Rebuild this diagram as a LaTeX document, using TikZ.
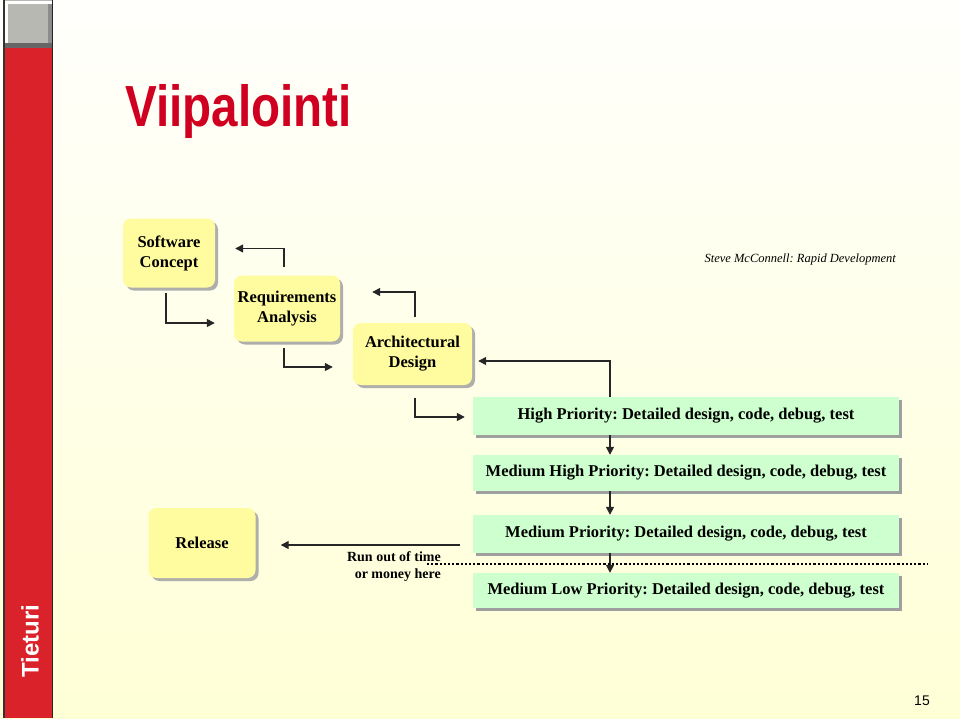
\documentclass[tikz,border=0pt]{standalone}
\usepackage{fontspec}
\setmainfont{Liberation Serif}
\newfontfamily\arialf{Liberation Sans}
\usetikzlibrary{arrows.meta,shadows}
\definecolor{bgtop}{RGB}{255,255,252}
\definecolor{bgbot}{RGB}{255,255,214}
\definecolor{redbar}{RGB}{218,34,42}
\definecolor{titlered}{RGB}{208,0,32}
\definecolor{yellowfill}{RGB}{255,252,160}
\definecolor{greenfill}{RGB}{206,255,206}
\definecolor{squaregray}{RGB}{184,184,178}
\frenchspacing
\begin{document}
\begin{tikzpicture}[x=1pt,y=-1pt,
  ybox/.style={rounded corners=8pt, fill=yellowfill, align=center, inner sep=0pt,
    font=\bfseries\fontsize{16.5}{20}\selectfont,
    drop shadow={shadow xshift=3pt, shadow yshift=-3pt, fill=gray!70, opacity=0.9}},
  gbox/.style={fill=greenfill, minimum width=426pt, inner sep=0pt,
    font=\bfseries\fontsize{16.5}{20}\selectfont,
    drop shadow={shadow xshift=2.5pt, shadow yshift=-2.5pt, fill=gray!75, opacity=1}},
  arr/.style={line width=1.4pt, draw=black!85, -{Triangle[length=8pt,width=8pt]}}
]
\useasboundingbox (0,0) rectangle (960,718);
\shade[top color=bgtop, bottom color=bgbot] (0,0) rectangle (960,718);

% left bar
\fill[redbar] (3,48) rectangle (52,718);
\fill[squaregray] (3,0) rectangle (52,47);
\fill[white] (4,1) rectangle (52,4);
\fill[white] (4,1) rectangle (8,43);
\fill[black!60] (4,43) rectangle (52,47.5);
\fill[black!45] (48,4) rectangle (52,43);
\draw[line width=1.5pt, black!80] (3.75,0) -- (3.75,718);
\draw[line width=1.5pt, black!85] (52.5,0) -- (52.5,718);
\node[rotate=90, text=white, font=\arialf\bfseries\fontsize{24}{24}\selectfont] (tieturi) at (30,641) {Tieturi};

% title
\node[anchor=base west, inner sep=0pt, text=titlered, font=\arialf\bfseries\fontsize{58}{58}\selectfont] (title) at (125,126) {\scalebox{0.82}[1]{Viipalointi}};

\node[anchor=base east, inner sep=0pt, font=\itshape\fontsize{12.5}{14}\selectfont] (credit) at (896,262) {Steve McConnell: Rapid Development};

% yellow boxes
\node[ybox, minimum width=92pt, minimum height=69pt] (sc) at (169,253) {Software\\Concept};
\node[ybox, minimum width=106pt, minimum height=66pt] (req) at (287,308.5) {Requirements\\Analysis};
\node[ybox, minimum width=119pt, minimum height=62pt] (arch) at (412.5,354) {Architectural\\Design};
\node[ybox, minimum width=107pt, minimum height=70pt] (rel) at (202,543) {Release};

% green boxes
\node[gbox, minimum height=38pt] (high) at (686,416) {High Priority: Detailed design, code, debug, test};
\node[gbox, minimum height=36pt] (medhigh) at (686,473) {Medium High Priority: Detailed design, code, debug, test};
\node[gbox, minimum height=38pt] (med) at (686,534) {Medium Priority: Detailed design, code, debug, test};
\node[gbox, minimum height=35pt] (medlow) at (686,590.5) {Medium Low Priority: Detailed design, code, debug, test};

% connectors
\draw[arr] ([xshift=-3pt,yshift=-5pt]sc.south) |- ([xshift=-19pt,yshift=-14.5pt]req.west);
\draw[arr] ([xshift=-3pt,yshift=8pt]req.north) |- ([xshift=20pt,yshift=4.5pt]sc.east);
\draw[arr] ([xshift=-3pt,yshift=-6.5pt]req.south) |- ([xshift=-20pt,yshift=-13pt]arch.west);
\draw[arr] ([xshift=2.5pt,yshift=6pt]arch.north) |- ([xshift=32pt,yshift=16.5pt]req.east);
\draw[arr] ([xshift=2.5pt,yshift=-13pt]arch.south) |- ([xshift=-8pt,yshift=-1pt]high.west);
\draw[arr] ([xshift=-76pt]high.north) |- ([xshift=6pt,yshift=-7pt]arch.east);
\draw[arr] ([xshift=-76pt]high.south) -- ([xshift=-76pt]medhigh.north);
\draw[arr] ([xshift=-76pt]medhigh.south) -- ([xshift=-76pt]med.north);
\draw[arr] ([xshift=-76pt]med.south) -- ([xshift=-76pt]medlow.north);

\coordinate (cutstart) at (460,545);
\draw[arr] (cutstart) -- ([xshift=25pt,yshift=-2pt]rel.east);

\coordinate (dotl) at (427,564);
\coordinate (dotr) at (928,564);
\draw[line width=2.2pt, black, dash pattern=on 2.2pt off 2pt] (dotl) -- (dotr);

\node[anchor=east, align=right, inner sep=0pt, font=\bfseries\fontsize{14}{16.5}\selectfont] (runout) at (441,566.5) {Run out of time\\or money here};

\node[font=\arialf\fontsize{14}{14}\selectfont] (pagenum) at (922,701) {15};
\end{tikzpicture}
\end{document}
